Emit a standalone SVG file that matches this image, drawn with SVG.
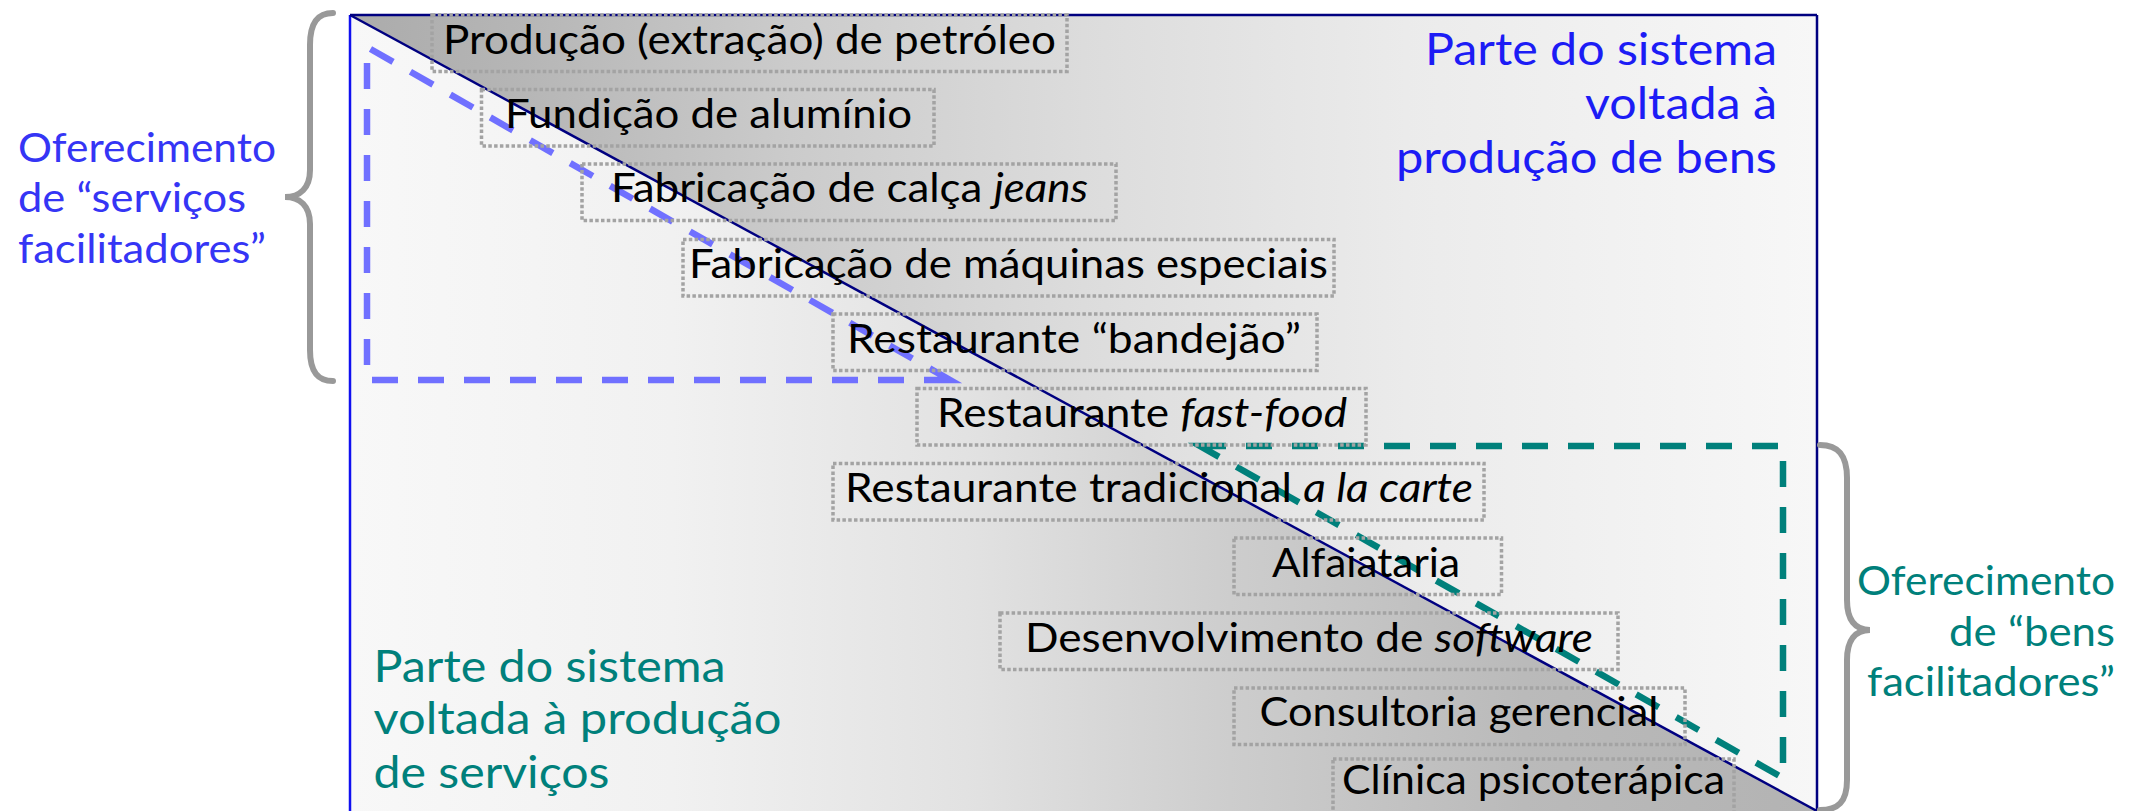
<svg xmlns="http://www.w3.org/2000/svg" width="2136" height="811" viewBox="0 0 2136 811">
<defs>
<linearGradient id="gUp" gradientUnits="userSpaceOnUse" x1="350" y1="0" x2="1817" y2="0">
<stop offset="0" stop-color="#ababab"/>
<stop offset="0.12" stop-color="#b6b6b6"/>
<stop offset="0.3" stop-color="#cbcbcb"/>
<stop offset="0.5" stop-color="#dcdcdc"/>
<stop offset="0.72" stop-color="#ebebeb"/>
<stop offset="1" stop-color="#f7f7f7"/>
</linearGradient>
<linearGradient id="gLow" gradientUnits="userSpaceOnUse" x1="350" y1="0" x2="1817" y2="0">
<stop offset="0" stop-color="#f8f8f8"/>
<stop offset="0.22" stop-color="#f1f1f1"/>
<stop offset="0.42" stop-color="#e2e2e2"/>
<stop offset="0.6" stop-color="#cdcdcd"/>
<stop offset="0.8" stop-color="#bababa"/>
<stop offset="1" stop-color="#b3b3b3"/>
</linearGradient>
<style>
.box{fill:none;stroke:#a3a3a3;stroke-width:3.5;stroke-dasharray:3.5 2.3}
.t{font-family:Lato,"Liberation Sans",sans-serif;font-size:41px;fill:#000;text-anchor:middle}
.i{font-style:italic}
.lbl{font-family:Lato,"Liberation Sans",sans-serif;font-size:41px}
.big{font-family:Lato,"Liberation Sans",sans-serif;font-size:45px}
.brace{fill:none;stroke:#999999;stroke-width:6;stroke-linecap:round}
.dash{fill:none;stroke-width:6.5;stroke-dasharray:26 20;stroke-linejoin:miter}
</style>
</defs>
<rect width="2136" height="811" fill="#ffffff"/>
<g id="background">
<polygon points="350,15 1817,15 1817,811" fill="url(#gUp)"/>
<polygon points="350,15 1817,811 1817,830 350,830" fill="url(#gLow)"/>
<line x1="350" y1="15" x2="1817" y2="15" stroke="#000080" stroke-width="2.5"/>
<line x1="1817" y1="15" x2="1817" y2="830" stroke="#000080" stroke-width="2.5"/>
<line x1="350" y1="15" x2="350" y2="830" stroke="#1010f0" stroke-width="2.5"/>
</g>
<g id="connectors">
<line id="diagonal" x1="350" y1="15" x2="1817" y2="811" stroke="#000080" stroke-width="2.5"/>
<path id="services-triangle" class="dash" stroke="#7070ff" d="M950,380 L367,380 L367,47 Z"/>
<path id="goods-triangle" class="dash" stroke="#00807b" d="M1200,446 L1783,446 L1783,778 Z"/>
<path id="brace-left" class="brace" d="M333,13 C318,13 310,22 310,45 L310,170 C310,188 300,197 285,197 C300,197 310,206 310,224 L310,350 C310,372 318,381 333,381"/>
<path id="brace-right" class="brace" d="M1820,445 C1838,445 1847,455 1847,478 L1847,600 C1847,620 1855,630 1870,630 C1855,630 1847,640 1847,660 L1847,780 C1847,802 1838,810 1820,810"/>
</g>
<g id="n1"><rect class="box" x="432" y="15" width="635" height="56.5"/><text class="t" x="749.5" y="53.5" textLength="613" lengthAdjust="spacingAndGlyphs">Produção (extração) de petróleo</text></g>
<g id="n2"><rect class="box" x="481.5" y="89.5" width="452.5" height="56.5"/><text class="t" x="708.5" y="128" textLength="407" lengthAdjust="spacingAndGlyphs">Fundição de alumínio</text></g>
<g id="n3"><rect class="box" x="582" y="164" width="534" height="56.5"/><text class="t" x="849.5" y="202" textLength="477" lengthAdjust="spacingAndGlyphs">Fabricação de calça <tspan class="i">jeans</tspan></text></g>
<g id="n4"><rect class="box" x="683" y="239.5" width="651" height="56.5"/><text class="t" x="1008.5" y="278" textLength="639" lengthAdjust="spacingAndGlyphs">Fabricação de máquinas especiais</text></g>
<g id="n5"><rect class="box" x="833" y="314" width="484" height="56.5"/><text class="t" x="1074" y="352.5" textLength="454" lengthAdjust="spacingAndGlyphs">Restaurante “bandejão”</text></g>
<g id="n6"><rect class="box" x="917" y="388.5" width="449" height="56.5"/><text class="t" x="1142" y="427" textLength="410" lengthAdjust="spacingAndGlyphs">Restaurante <tspan class="i">fast-food</tspan></text></g>
<g id="n7"><rect class="box" x="833" y="463.5" width="651" height="56.5"/><text class="t" x="1159" y="502" textLength="628" lengthAdjust="spacingAndGlyphs">Restaurante tradicional <tspan class="i">a la carte</tspan></text></g>
<g id="n8"><rect class="box" x="1234" y="538" width="267.5" height="56.5"/><text class="t" x="1366" y="577" textLength="188" lengthAdjust="spacingAndGlyphs">Alfaiataria</text></g>
<g id="n9"><rect class="box" x="1000" y="613" width="618" height="56.5"/><text class="t" x="1309" y="652" textLength="568" lengthAdjust="spacingAndGlyphs">Desenvolvimento de <tspan class="i">software</tspan></text></g>
<g id="n10"><rect class="box" x="1234" y="688" width="451" height="56.5"/><text class="t" x="1459" y="726" textLength="399" lengthAdjust="spacingAndGlyphs">Consultoria gerencial</text></g>
<g id="n11"><rect class="box" x="1333" y="759" width="401" height="56.5"/><text class="t" x="1533.5" y="794" textLength="383" lengthAdjust="spacingAndGlyphs">Clínica psicoterápica</text></g>
<g id="label-goods" class="big" fill="#1c1cf5" text-anchor="end">
<text x="1777" y="65" textLength="352" lengthAdjust="spacingAndGlyphs">Parte do sistema</text>
<text x="1777" y="119" textLength="192" lengthAdjust="spacingAndGlyphs">voltada à</text>
<text x="1777" y="173" textLength="381" lengthAdjust="spacingAndGlyphs">produção de bens</text>
</g>
<g id="label-services" class="big" fill="#00807b">
<text x="373.5" y="682" textLength="352" lengthAdjust="spacingAndGlyphs">Parte do sistema</text>
<text x="373.5" y="734" textLength="408" lengthAdjust="spacingAndGlyphs">voltada à produção</text>
<text x="373.5" y="788" textLength="236" lengthAdjust="spacingAndGlyphs">de serviços</text>
</g>
<g id="label-facilitating-services" class="lbl" fill="#3535f5">
<text x="18" y="162" textLength="258" lengthAdjust="spacingAndGlyphs">Oferecimento</text>
<text x="18" y="212" textLength="228" lengthAdjust="spacingAndGlyphs">de “serviços</text>
<text x="18" y="263" textLength="248" lengthAdjust="spacingAndGlyphs">facilitadores”</text>
</g>
<g id="label-facilitating-goods" class="lbl" fill="#00807b" text-anchor="end">
<text x="2115" y="595" textLength="258" lengthAdjust="spacingAndGlyphs">Oferecimento</text>
<text x="2115" y="646" textLength="166" lengthAdjust="spacingAndGlyphs">de “bens</text>
<text x="2115" y="696" textLength="248" lengthAdjust="spacingAndGlyphs">facilitadores”</text>
</g>
</svg>
